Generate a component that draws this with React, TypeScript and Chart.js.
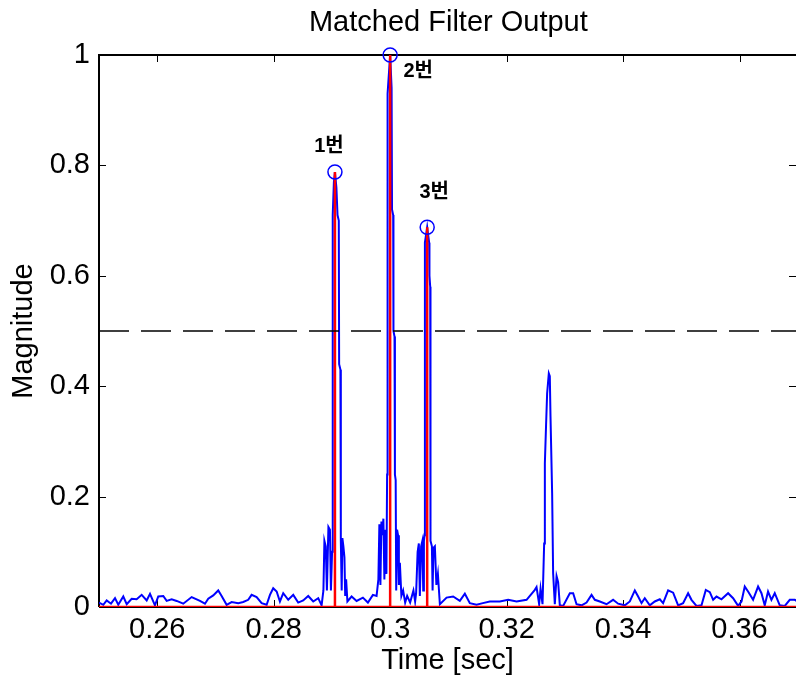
import React, { useEffect, useRef } from "react";
import { Chart, registerables } from "chart.js";

Chart.register(...registerables);

// ---------------- data ----------------
const timeSec = [
  0.25, 0.25074, 0.25132, 0.25206, 0.25275, 0.25331, 0.25417, 0.25476, 0.25561, 0.25647,
  0.25733, 0.25819, 0.25876, 0.25961, 0.26018, 0.26104, 0.26162, 0.26248, 0.26334, 0.26447,
  0.26591, 0.26734, 0.2682, 0.26876, 0.26962, 0.27048, 0.27106, 0.27192, 0.27278, 0.27391,
  0.27477, 0.27563, 0.27621, 0.27707, 0.27793, 0.27879, 0.27936, 0.27992, 0.28051, 0.28107,
  0.28164, 0.2825, 0.28336, 0.28421, 0.28507, 0.28593, 0.28679, 0.28765, 0.28823,
  // peak 1
  0.28854, 0.28871, 0.28894, 0.28914, 0.2894, 0.28966, 0.28983, 0.29003, 0.29014, 0.29034,
  0.29052, 0.29077, 0.29096, 0.29118, 0.29124, 0.29146, 0.29153, 0.29168, 0.2918, 0.29197,
  0.29215, 0.29228, 0.29244, 0.29266,
  0.29338, 0.29424, 0.29532, 0.29618, 0.29704, 0.29767,
  // peak 2
  0.29798, 0.29815, 0.29833, 0.2985, 0.29867, 0.29884, 0.29901, 0.29918, 0.29936, 0.29948,
  0.29956, 0.3, 0.30025, 0.30032, 0.30052, 0.30057, 0.30075, 0.30082, 0.30095, 0.30104,
  0.30119, 0.30136, 0.3015, 0.30167, 0.30193, 0.30223, 0.30258, 0.30292, 0.30343, 0.304,
  // peak 3
  0.30429, 0.30446, 0.30472, 0.30493, 0.3051, 0.30532, 0.30554, 0.30568, 0.3058, 0.30592,
  0.30597, 0.30636, 0.3067, 0.30675, 0.30688, 0.30693, 0.30717, 0.30729, 0.30744, 0.30768,
  0.30794, 0.3082, 0.30854,
  0.30969, 0.31082, 0.31197, 0.31283, 0.31369, 0.31484, 0.31592, 0.31712, 0.31884, 0.32027,
  0.32171, 0.32343, 0.32485, 0.32514, 0.32559, 0.32583, 0.32617,
  // peak 4
  0.32645, 0.32657, 0.32678, 0.32696, 0.32725, 0.32742, 0.32754, 0.32782, 0.32799, 0.32828,
  0.32858, 0.32885, 0.32914, 0.32971, 0.33086, 0.33143, 0.33201, 0.33287, 0.33373, 0.33459,
  0.33515,
  0.33601, 0.33716, 0.33829, 0.33915, 0.3403, 0.34116, 0.34202, 0.34259, 0.34317, 0.34373,
  0.34459, 0.34545, 0.34631, 0.34688, 0.34774, 0.3486, 0.34946, 0.35031, 0.35117, 0.35175,
  0.35261, 0.35347, 0.35421, 0.3549, 0.35547, 0.35605, 0.3569, 0.35804, 0.3589, 0.35976,
  0.36034, 0.3609, 0.36147, 0.36233, 0.36319, 0.36377, 0.36433, 0.3649, 0.36548, 0.36605,
  0.36691, 0.36777, 0.36863, 0.36949, 0.37,
];

const magnitude = [
  0.008, 0.004, 0.012, 0.006, 0.016, 0.004, 0.019, 0.005, 0.015, 0.014,
  0.022, 0.012, 0.024, 0.003, 0.019, 0.02, 0.011, 0.014, 0.011, 0.006,
  0.018, 0.011, 0.006, 0.015, 0.021, 0.03, 0.02, 0.004, 0.009, 0.007,
  0.009, 0.013, 0.022, 0.018, 0.007, 0.004, 0.022, 0.034, 0.028, 0.01,
  0.025, 0.013, 0.022, 0.008, 0.012, 0.02, 0.01, 0.016, 0.003,
  // peak 1
  0.03, 0.12, 0.11, 0.03, 0.145, 0.14, 0.03, 0.1, 0.71, 0.77,
  0.788, 0.76, 0.71, 0.7, 0.44, 0.43, 0.12, 0.03, 0.125, 0.11,
  0.09, 0.02, 0.05, 0.01,
  0.019, 0.011, 0.017, 0.008, 0.022, 0.02,
  // peak 2
  0.05, 0.15, 0.04, 0.155, 0.13, 0.16, 0.05, 0.14, 0.06, 0.24,
  0.93, 1.0, 0.94, 0.72, 0.71, 0.5, 0.49, 0.24, 0.23, 0.03,
  0.14, 0.13, 0.04, 0.08, 0.02, 0.03, 0.008, 0.02, 0.008, 0.03,
  // peak 3
  0.01, 0.025, 0.1, 0.115, 0.02, 0.11, 0.12, 0.03, 0.12, 0.13,
  0.66, 0.688, 0.66, 0.6, 0.58, 0.12, 0.11, 0.03, 0.107, 0.11,
  0.04, 0.06, 0.005,
  0.017, 0.019, 0.011, 0.024, 0.007, 0.004, 0.007, 0.01, 0.01, 0.013,
  0.01, 0.013, 0.031, 0.036, 0.005, 0.033, 0.005,
  // peak 4
  0.115, 0.26, 0.33, 0.387, 0.423, 0.418, 0.345, 0.206, 0.061, 0.005,
  0.056, 0.045, 0.003, 0.002, 0.025, 0.025, 0.005, 0.003, 0.008, 0.022,
  0.013,
  0.01, 0.005, 0.013, 0.006, 0.003, 0.01, 0.03, 0.019, 0.007, 0.016,
  0.003, 0.01, 0.014, 0.007, 0.03, 0.026, 0.003, 0.007, 0.025, 0.013,
  0.002, 0.003, 0.031, 0.027, 0.013, 0.019, 0.014, 0.025, 0.016, 0.002,
  0.01, 0.037, 0.028, 0.013, 0.037, 0.025, 0.003, 0.028, 0.013, 0.025,
  0.003, 0.002, 0.013, 0.013, 0.01,
];

const peakTimes = [0.29052, 0.3, 0.30636];
const peakValues = [0.788, 1.0, 0.688];
const peakLabels = ["1번", "2번", "3번"];
const thresholdValue = 0.5;

const xTickValues = [0.26, 0.28, 0.3, 0.32, 0.34, 0.36];
const yTickValues = [0, 0.2, 0.4, 0.6, 0.8, 1];
const xMin = 0.25;
const xMax = 0.3697;
const yMin = 0;
const yMax = 1;

const titleText = "Matched Filter Output";
const xAxisTitle = "Time [sec]";
const yAxisTitle = "Magnitude";

// ---------------- styles ----------------
const FONT_FAMILY = "'Liberation Sans', Arial, Helvetica, sans-serif";
const FONT_SIZE = 29;
const LABEL_FONT = "bold 20px 'Liberation Sans', 'Noto Sans CJK KR', sans-serif";
const labelOffsets = [
  [-6, -26],
  [28, 16],
  [7, -35],
];
const TICK_LEN = 7;
const TITLE_CENTER_Y = 23;

const fmt = (v: number) => String(Number(Number(v).toFixed(4)));

const framePlugin = {
  id: "frame",
  beforeDatasetsDraw(chart: any) {
    const { ctx, chartArea } = chart;
    const { left, right, top, bottom } = chartArea;
    const xs = chart.scales.x;
    const ys = chart.scales.y;
    ctx.save();
    ctx.strokeStyle = "#000";
    ctx.lineWidth = 2;
    ctx.beginPath();
    ctx.moveTo(left, bottom);
    ctx.lineTo(left, top);
    ctx.lineTo(right, top);
    ctx.moveTo(left, bottom);
    ctx.lineTo(right, bottom);
    ctx.stroke();
    ctx.lineWidth = 1;
    ctx.beginPath();
    xTickValues.forEach((v) => {
      const px = Math.round(xs.getPixelForValue(v)) + 0.5;
      ctx.moveTo(px, bottom);
      ctx.lineTo(px, bottom - TICK_LEN);
      ctx.moveTo(px, top);
      ctx.lineTo(px, top + TICK_LEN);
    });
    yTickValues.forEach((v) => {
      const py = Math.round(ys.getPixelForValue(v)) + 0.5;
      ctx.moveTo(left, py);
      ctx.lineTo(left + TICK_LEN, py);
      ctx.moveTo(right, py);
      ctx.lineTo(right - TICK_LEN, py);
    });
    ctx.stroke();
    ctx.restore();
  },
  afterDatasetsDraw(chart: any) {
    const { ctx, chartArea } = chart;
    const xs = chart.scales.x;
    const ys = chart.scales.y;
    ctx.save();
    // title centred over the plot box
    ctx.font = `normal ${FONT_SIZE}px ${FONT_FAMILY}`;
    ctx.fillStyle = "#000";
    ctx.textAlign = "center";
    ctx.textBaseline = "middle";
    ctx.fillText(titleText, (chartArea.left + xs.getPixelForValue(0.37)) / 2, TITLE_CENTER_Y);
    // peak labels
    ctx.font = LABEL_FONT;
    peakLabels.forEach((lab, i) => {
      const px = xs.getPixelForValue(peakTimes[i]) + labelOffsets[i][0];
      const py = ys.getPixelForValue(peakValues[i]) + labelOffsets[i][1];
      ctx.fillText(lab, px, py);
    });
    ctx.restore();
  },
};

export default function App() {
  const canvasRef = useRef<HTMLCanvasElement | null>(null);

  useEffect(() => {
    document.body.style.margin = "0";
    const canvas = canvasRef.current;
    if (!canvas) return;

    const signal = timeSec.map((t, i) => ({ x: t, y: magnitude[i] }));
    const stems: any[] = [
      { x: xMin, y: 0 },
      { x: xMax, y: 0 },
    ];
    peakTimes.forEach((t, i) => {
      stems.push({ x: t, y: null });
      stems.push({ x: t, y: 0 });
      stems.push({ x: t, y: peakValues[i] });
    });
    const threshold = [
      { x: xMin, y: thresholdValue },
      { x: xMax, y: thresholdValue },
    ];
    const peaks = peakTimes.map((t, i) => ({ x: t, y: peakValues[i] }));

    const axisFont = { family: FONT_FAMILY, size: FONT_SIZE, weight: "normal" as const };

    const chart = new Chart(canvas, {
      type: "line",
      data: {
        datasets: [
          {
            data: signal,
            borderColor: "#0000ff",
            borderWidth: 2,
            pointRadius: 0,
            tension: 0,
            order: 4,
          },
          {
            data: stems,
            borderColor: "#ff0000",
            borderWidth: 2.5,
            pointRadius: 0,
            tension: 0,
            spanGaps: false,
            order: 3,
          },
          {
            data: threshold,
            borderColor: "#000000",
            borderWidth: 1.5,
            borderDash: [30, 12],
            pointRadius: 0,
            order: 2,
          },
          {
            data: peaks,
            showLine: false,
            pointRadius: 7,
            pointStyle: "circle",
            pointBorderColor: "#0000ff",
            pointBackgroundColor: "rgba(0,0,0,0)",
            pointBorderWidth: 1.5,
            clip: false as any,
            order: 1,
          },
        ] as any,
      },
      options: {
        responsive: false,
        animation: false,
        events: [],
        layout: { padding: { top: 55, left: 0, right: 0, bottom: 0 }, autoPadding: false },
        plugins: {
          legend: { display: false },
          tooltip: { enabled: false },
          title: { display: false },
        },
        scales: {
          x: {
            type: "linear",
            min: xMin,
            max: xMax,
            afterBuildTicks: (s: any) => {
              s.ticks = xTickValues.map((v) => ({ value: v }));
            },
            afterFit: (s: any) => {
              s.height = 77;
              s.paddingLeft = 0;
              s.paddingRight = 0;
            },
            grid: { display: false, drawTicks: false },
            border: { display: false },
            ticks: {
              color: "#000",
              font: axisFont,
              padding: 5.6,
              maxRotation: 0,
              autoSkip: false,
              callback: (v: any) => fmt(v),
            },
            title: {
              display: true,
              text: xAxisTitle,
              color: "#000",
              font: axisFont,
              padding: { top: 0, bottom: 5.6 },
            },
          },
          y: {
            type: "linear",
            min: yMin,
            max: yMax,
            afterBuildTicks: (s: any) => {
              s.ticks = yTickValues.map((v) => ({ value: v }));
            },
            afterFit: (s: any) => {
              s.width = 99;
              s.paddingTop = 0;
              s.paddingBottom = 0;
            },
            grid: { display: false, drawTicks: false },
            border: { display: false },
            ticks: {
              color: "#000",
              font: axisFont,
              padding: 9,
              autoSkip: false,
              callback: (v: any) => fmt(v),
            },
            title: {
              display: true,
              text: yAxisTitle,
              color: "#000",
              font: axisFont,
              padding: { top: 6.6, bottom: 0 },
            },
          },
        },
      } as any,
      plugins: [framePlugin],
    });

    return () => {
      chart.destroy();
    };
  }, []);

  return (
    <div style={{ position: "fixed", left: 0, top: 0, width: 796, height: 684, background: "#fff" }}>
      <canvas ref={canvasRef} width={796} height={684} />
    </div>
  );
}
